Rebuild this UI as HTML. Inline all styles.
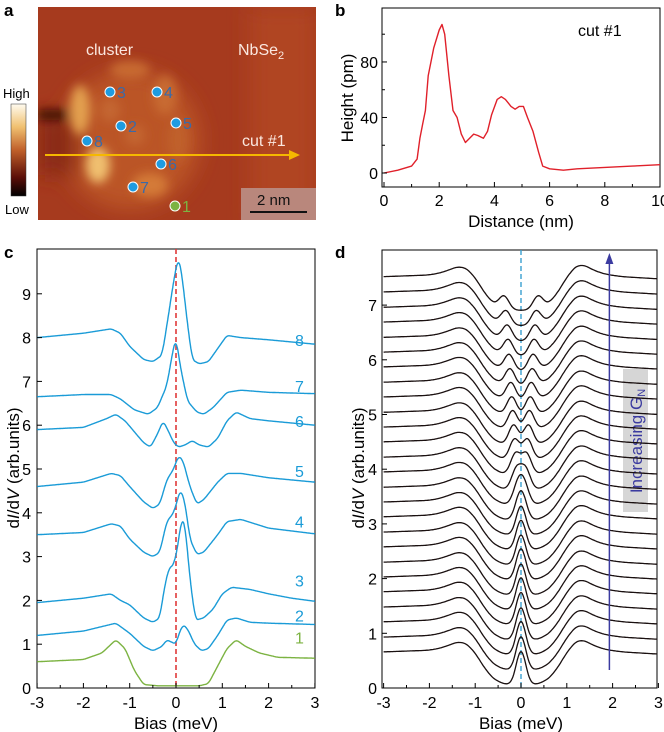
<!DOCTYPE html>
<html><head><meta charset="utf-8">
<style>
html,body{margin:0;padding:0;background:#fff;}
svg{display:block;font-family:"Liberation Sans",Arial,sans-serif;}
</style></head>
<body>
<svg id="fig" width="664" height="732" viewBox="0 0 664 732">
<defs>
<linearGradient id="cbar" x1="0" y1="0" x2="0" y2="1">
<stop offset="0" stop-color="#fffbf0"/><stop offset="0.25" stop-color="#f0c070"/>
<stop offset="0.5" stop-color="#c0602a"/><stop offset="0.8" stop-color="#5a0e08"/><stop offset="1" stop-color="#000"/>
</linearGradient>
<filter id="blur" x="-50%" y="-50%" width="200%" height="200%"><feGaussianBlur stdDeviation="5"/></filter>
<filter id="blur2" x="-50%" y="-50%" width="200%" height="200%"><feGaussianBlur stdDeviation="10"/></filter>
<clipPath id="imgclip"><rect x="38" y="7" width="278" height="213"/></clipPath>
<clipPath id="clipb"><rect x="382" y="8" width="278" height="179"/></clipPath>
<clipPath id="clipc"><rect x="37" y="249" width="278" height="439"/></clipPath>
<clipPath id="clipd"><rect x="382" y="250" width="275" height="438"/></clipPath>
</defs>

<!-- Panel a -->
<g>
<text x="4" y="16" font-size="17" font-weight="bold">a</text>
<g clip-path="url(#imgclip)">
<rect x="38" y="7" width="278" height="213" fill="#a63a1e"/>
<rect x="250" y="7" width="66" height="213" fill="#b04420" filter="url(#blur2)"/>
<g filter="url(#blur2)">
<ellipse cx="130" cy="140" rx="70" ry="70" fill="#bb5428"/>
<rect x="38" y="115" width="40" height="60" fill="#8a2a16"/>
</g>
<g filter="url(#blur)">
<rect x="38" y="110" width="30" height="10" fill="#3a0a06"/>
<ellipse cx="80" cy="110" rx="10" ry="25" fill="#e3a050"/>
<ellipse cx="98" cy="165" rx="12" ry="18" fill="#f0c070"/>
<ellipse cx="130" cy="70" rx="20" ry="9" fill="#c86a30"/>
<ellipse cx="165" cy="95" rx="12" ry="20" fill="#c86a30"/>
<ellipse cx="178" cy="140" rx="10" ry="22" fill="#c0602a"/>
<ellipse cx="150" cy="185" rx="18" ry="12" fill="#d47a38"/>
<ellipse cx="110" cy="110" rx="10" ry="12" fill="#c46630"/>
<ellipse cx="135" cy="135" rx="10" ry="10" fill="#c46630"/>
</g>
</g>
<text x="86" y="55" font-size="16" fill="#fbe8e0">cluster</text>
<text x="238" y="55" font-size="16" fill="#fbe8e0">NbSe<tspan font-size="11" dy="4">2</tspan></text>
<line x1="45" y1="155" x2="290" y2="155" stroke="#f5b800" stroke-width="2"/>
<polygon points="300,155 289,150 289,160" fill="#f5b800"/>
<text x="242" y="146" font-size="16" fill="#fbe8e0">cut #1</text>
<g id="points"></g>
<rect x="241" y="188" width="75" height="32" fill="#b9877c"/>
<text x="257" y="205" font-size="15" fill="#111">2 nm</text>
<line x1="250" y1="212" x2="307" y2="212" stroke="#111" stroke-width="2"/>
<rect x="11" y="104" width="15" height="92" fill="url(#cbar)" stroke="#333" stroke-width="0.5"/>
<text x="3" y="98" font-size="13">High</text>
<text x="5" y="214" font-size="13">Low</text>
</g>

<!-- Panel b -->
<g id="pb">
<text x="335" y="16" font-size="17" font-weight="bold">b</text>
<rect x="382" y="8" width="278" height="179" fill="none" stroke="#000" stroke-width="1"/>
<text x="578" y="36" font-size="16">cut #1</text>
<text x="521" y="227" font-size="17" text-anchor="middle">Distance (nm)</text>
<text transform="translate(353,98) rotate(-90)" font-size="17" text-anchor="middle">Height (pm)</text>
</g>

<!-- Panel c -->
<g id="pc">
<text x="4" y="258" font-size="17" font-weight="bold">c</text>
<rect x="37" y="249" width="278" height="439" fill="none" stroke="#000" stroke-width="1"/>
<text x="176" y="729" font-size="17" text-anchor="middle">Bias (meV)</text>
<text transform="translate(19,468) rotate(-90)" font-size="17" text-anchor="middle">d<tspan font-style="italic">I</tspan>/d<tspan font-style="italic">V</tspan> (arb.units)</text>
</g>

<!-- Panel d -->
<g id="pd">
<text x="335" y="258" font-size="17" font-weight="bold">d</text>
<rect x="382" y="250" width="275" height="438" fill="none" stroke="#000" stroke-width="1"/>
<text x="521" y="729" font-size="17" text-anchor="middle">Bias (meV)</text>
<text transform="translate(364,468) rotate(-90)" font-size="17" text-anchor="middle">d<tspan font-style="italic">I</tspan>/d<tspan font-style="italic">V</tspan> (arb.units)</text>
<rect x="623" y="369" width="25" height="143" fill="#d6d6d6"/>
<text transform="translate(642,441) rotate(-90)" font-size="17" fill="#3b3ba0" text-anchor="middle">Increasing G<tspan font-size="11" dy="3">N</tspan></text>
</g>
</svg>

<script>
const NS='http://www.w3.org/2000/svg';
const svg=document.getElementById('fig');
function mk(tag,attrs,parent){const e=document.createElementNS(NS,tag);for(const k in attrs)e.setAttribute(k,attrs[k]);(parent||svg).appendChild(e);return e;}

// Panel a points
const pointLabels=['3','4','2','5','8','6','7','1'];
const pointX=[110,157,121,176,87,161,133,175];
const pointY=[92,92,126,123,141,164,187,206];

// Panel b data
const distNm=[0,0.5,1,1.2,1.3,1.4,1.5,1.6,1.8,2.0,2.1,2.2,2.35,2.5,2.65,2.8,2.95,3.1,3.25,3.4,3.6,3.75,3.9,4.1,4.25,4.4,4.6,4.75,4.9,5.05,5.2,5.4,5.6,5.75,6,6.5,7,8,9,10];
const heightPm=[0,2,5,10,25,35,45,70,90,103,107,100,70,45,40,28,22,25,28,27,25,30,42,53,55,53,48,46,48,48,40,30,15,5,3,2,3,4,5,6];
const bXTicks=['0','2','4','6','8','10'];
const bYTicks=['0','40','80'];

// Panel c data
const cBias=[
[-3,-2,-1.6,-1.3,-1.1,-0.9,-0.7,-0.4,0,0.5,0.7,0.9,1.1,1.3,1.5,1.8,2.2,3],
[-3,-2,-1.3,-1,-0.7,-0.5,-0.3,-0.2,-0.1,0,0.05,0.15,0.25,0.4,0.55,0.7,0.9,1.1,1.3,1.6,2,3],
[-3,-2,-1.4,-1.2,-1,-0.7,-0.5,-0.35,-0.25,-0.15,-0.05,0.05,0.12,0.2,0.3,0.42,0.6,0.8,1.0,1.2,1.6,2,2.5,3],
[-3,-2,-1.4,-1.2,-1,-0.7,-0.5,-0.35,-0.2,-0.05,0.1,0.2,0.3,0.45,0.6,0.9,1.1,1.4,2,3],
[-3,-2,-1.4,-1.2,-1,-0.7,-0.5,-0.35,-0.2,-0.05,0.05,0.15,0.3,0.45,0.6,0.9,1.1,1.4,2,3],
[-3,-2,-1.5,-1.3,-1.1,-0.9,-0.7,-0.55,-0.4,-0.28,-0.18,-0.05,0.05,0.2,0.35,0.5,0.7,0.9,1.1,1.3,1.6,2,3],
[-3,-2,-1.4,-1.2,-0.9,-0.6,-0.4,-0.2,-0.05,0,0.1,0.25,0.45,0.6,0.8,1.1,1.4,2,3],
[-3,-2,-1.4,-1.2,-1,-0.7,-0.5,-0.3,-0.15,-0.05,0.05,0.12,0.25,0.35,0.5,0.7,0.9,1.1,1.4,2,3]];
const cSpec1=[0.6,0.65,0.8,1.1,0.9,0.4,0.08,0.05,0.05,0.05,0.1,0.5,0.9,1.1,0.95,0.8,0.7,0.68];
const cSpec2=[1.2,1.3,1.48,1.25,0.95,0.85,0.95,1.1,1.05,1.0,1.2,1.45,1.35,1.0,0.85,0.9,1.2,1.55,1.6,1.5,1.48,1.45];
const cSpec3=[1.95,2.05,2.15,2.0,1.9,1.6,1.5,1.6,2.3,2.75,2.8,3.3,3.9,3.7,2.5,1.55,1.6,1.8,2.15,2.3,2.25,2.15,2.05,1.98];
const cSpec4=[3.5,3.55,3.75,3.7,3.4,3.1,3.0,3.1,3.8,4.0,4.55,4.2,3.4,3.05,3.1,3.5,3.8,3.85,3.65,3.52];
const cSpec5=[4.6,4.7,4.9,4.85,4.6,4.25,4.1,4.2,4.75,5.0,5.3,5.2,4.6,4.2,4.3,4.7,4.9,4.9,4.8,4.7];
const cSpec6=[5.9,5.95,6.15,6.25,6.1,5.85,5.6,5.5,5.8,6.1,5.9,5.6,5.5,5.55,5.65,5.55,5.5,5.7,6.1,6.3,6.15,6.1,6.0];
const cSpec7=[6.65,6.7,6.7,6.6,6.35,6.25,6.4,6.9,7.8,8.0,7.3,6.55,6.3,6.25,6.4,6.75,6.8,6.75,6.72];
const cSpec8=[8.0,8.1,8.2,8.1,7.8,7.5,7.45,7.6,8.6,9.3,9.85,9.5,8.3,7.5,7.4,7.45,7.75,8.05,8.0,7.95,7.85];
const cLabels=['1','2','3','4','5','6','7','8'];
const cLabelVal=[1.15,1.65,2.45,3.8,4.95,6.1,6.9,7.95];
const cXTicks=['-3','-2','-1','0','1','2','3'];
const cYTicks=['0','1','2','3','4','5','6','7','8','9'];

// Panel d data
const dTemplateBias=[-3,-2,-1.7,-1.5,-1.3,-1.1,-0.9,-0.7,-0.5,-0.3,0,0.3,0.5,0.7,0.9,1.1,1.3,1.5,1.8,2.2,3];
const dTemplateVal=[0,0.03,0.08,0.15,0.2,0.1,-0.15,-0.42,-0.55,-0.6,-0.62,-0.6,-0.55,-0.42,-0.15,0.12,0.25,0.15,0.05,0.0,-0.04];
const dOffsets=[0.66,0.93,1.21,1.48,1.76,2.03,2.30,2.58,2.85,3.13,3.40,3.67,3.95,4.22,4.50,4.77,5.04,5.32,5.59,5.87,6.14,6.41,6.69,6.96,7.24,7.52];
const dPeakAmp=[0.62,0.62,0.62,0.6,0.6,0.6,0.58,0.58,0.56,0.55,0.54,0.52,0.5,0.45,0.42,0.4,0.38,0.36,0.34,0.32,0.3,0.29,0.28,0.27,0.25,0.23];
const dPeakSplit=[0,0,0,0,0,0,0,0,0,0,0,0.04,0.07,0.1,0.12,0.14,0.16,0.18,0.2,0.22,0.24,0.26,0.28,0.3,0.33,0.37];
const dXTicks=['-3','-2','-1','0','1','2','3'];
const dYTicks=['0','1','2','3','4','5','6','7'];

function lin(xs,ys,x){if(x<=xs[0])return ys[0];for(let i=0;i<xs.length-1;i++){if(x<=xs[i+1]){const f=(x-xs[i])/(xs[i+1]-xs[i]);return ys[i]+(ys[i+1]-ys[i])*f;}}return ys[ys.length-1];}
function smoothPath(xs,ys,half,sx,sy){
  let p='';const step=0.01;const n=Math.round(6/step);
  for(let i=0;i<=n;i++){const x=-3+i*step;let s=0,c=0;
    for(let k=-5;k<=5;k++){const xx=x+k*half/5;s+=lin(xs,ys,Math.max(-3,Math.min(3,xx)));c++;}
    p+=(i?'L':'M')+sx(x).toFixed(1)+','+sy(s/c).toFixed(1);}
  return p;}

// ---------- Panel a
const gp=document.getElementById('points');
pointLabels.forEach((l,i)=>{
  const green=l==='1';
  const c=mk('circle',{cx:pointX[i],cy:pointY[i],r:5,fill:green?'#7cb342':'#1e9be0',stroke:'#fff','stroke-width':1},gp);
  
  
  const t=mk('text',{x:pointX[i]+7,y:pointY[i]+6,'font-size':16,fill:green?'#7cb342':'#3a6aa8'},gp);
  
  
  t.textContent=l;
});

// ---------- Panel b
const pb=document.getElementById('pb');
const bx=v=>384+v*27.6, by=v=>173-v*1.388;
let d='';distNm.forEach((x,i)=>{d+=(i?'L':'M')+bx(x).toFixed(1)+','+by(heightPm[i]).toFixed(1);});
const bl=mk('path',{d:d,fill:'none',stroke:'#e0202a','stroke-width':1.4,'stroke-linejoin':'round','clip-path':'url(#clipb)'},pb);


bXTicks.forEach(s=>{const v=+s,x=bx(v);
  mk('line',{x1:x,y1:187,x2:x,y2:182,stroke:'#000'},pb);
  const t=mk('text',{x:x,y:206,'font-size':16,'text-anchor':'middle'},pb);
  
  
  t.textContent=s;
  mk('line',{x1:bx(v+1),y1:187,x2:bx(v+1),y2:184,stroke:'#000'},pb);
});
bYTicks.forEach(s=>{const v=+s,y=by(v);
  mk('line',{x1:382,y1:y,x2:387,y2:y,stroke:'#000'},pb);
  const t=mk('text',{x:378,y:y+6,'font-size':16,'text-anchor':'end'},pb);
  
  
  t.textContent=s;
  mk('line',{x1:382,y1:by(v+20),x2:385,y2:by(v+20),stroke:'#000'},pb);
});

// ---------- Panel c
const pc=document.getElementById('pc');
const cx=v=>176+v*46.3, cy=v=>688-v*43.8;
mk('line',{x1:cx(0),y1:249,x2:cx(0),y2:688,stroke:'#e03a3a','stroke-width':1.6,'stroke-dasharray':'5,3'},pc);
const cSpecs=[cSpec1,cSpec2,cSpec3,cSpec4,cSpec5,cSpec6,cSpec7,cSpec8];
cSpecs.forEach((arr,k)=>{
  const p=smoothPath(cBias[k],arr,0.05,cx,cy);
  const col=k===0?'#7cb342':'#1a9bd7';
  const e=mk('path',{d:p,fill:'none',stroke:col,'stroke-width':1.4,'stroke-linejoin':'round','clip-path':'url(#clipc)'},pc);
  
  
  const t=mk('text',{x:295,y:cy(cLabelVal[k])+6,'font-size':16,fill:col},pc);
  
  
  t.textContent=cLabels[k];
});
cXTicks.forEach(s=>{const v=+s,x=cx(v);
  mk('line',{x1:x,y1:688,x2:x,y2:683,stroke:'#000'},pc);
  if(v<3)mk('line',{x1:cx(v+0.5),y1:688,x2:cx(v+0.5),y2:685,stroke:'#000'},pc);
  const t=mk('text',{x:x,y:708,'font-size':16,'text-anchor':'middle'},pc);
  
  
  t.textContent=s;
});
cYTicks.forEach(s=>{const v=+s,y=cy(v);
  mk('line',{x1:37,y1:y,x2:42,y2:y,stroke:'#000'},pc);
  const t=mk('text',{x:31,y:y+6,'font-size':16,'text-anchor':'end'},pc);
  
  
  t.textContent=s;
});

// ---------- Panel d
const pd=document.getElementById('pd');
const dx=v=>521+v*45.8, dy=v=>688-v*54.7;
function tmpl(x){let s=0,c=0;for(let k=-6;k<=6;k++){s+=lin(dTemplateBias,dTemplateVal,x+k*0.025);c++;}return s/c;}
mk('line',{x1:dx(0),y1:250,x2:dx(0),y2:688,stroke:'#3aa0d0','stroke-width':1.4,'stroke-dasharray':'5,3'},pd);
dOffsets.forEach((off,k)=>{
  const A=dPeakAmp[k],s=dPeakSplit[k],w=0.15;
  const norm=1+Math.exp(-4*s*s/(w*w));
  let p='';
  for(let i=0;i<=300;i++){const x=-3+i*0.02;
    const inner=A*(Math.exp(-((x-s)*(x-s))/(w*w))+Math.exp(-((x+s)*(x+s))/(w*w)))/norm;
    const y=off+tmpl(x)+inner;
    p+=(i?'L':'M')+dx(x).toFixed(1)+','+dy(y).toFixed(1);}
  const e=mk('path',{d:p,fill:'none',stroke:'#1a1010','stroke-width':1.3,'clip-path':'url(#clipd)'},pd);
  
  
});
dXTicks.forEach(s=>{const v=+s,x=dx(v);
  mk('line',{x1:x,y1:688,x2:x,y2:683,stroke:'#000'},pd);
  if(v<3)mk('line',{x1:dx(v+0.5),y1:688,x2:dx(v+0.5),y2:685,stroke:'#000'},pd);
  const t=mk('text',{x:x,y:708,'font-size':16,'text-anchor':'middle'},pd);
  
  
  t.textContent=s;
});
dYTicks.forEach(s=>{const v=+s,y=dy(v);
  mk('line',{x1:382,y1:y,x2:387,y2:y,stroke:'#000'},pd);
  const t=mk('text',{x:377,y:y+6,'font-size':16,'text-anchor':'end'},pd);
  
  
  t.textContent=s;
});
const ar=mk('line',{x1:dx(1.93),y1:670,x2:dx(1.93),y2:262,stroke:'#3b3ba0','stroke-width':1.5},pd);


mk('polygon',{points:`${dx(1.93)},253 ${dx(1.93)-4},264 ${dx(1.93)+4},264`,fill:'#3b3ba0'},pd);
</script>
</body></html>
